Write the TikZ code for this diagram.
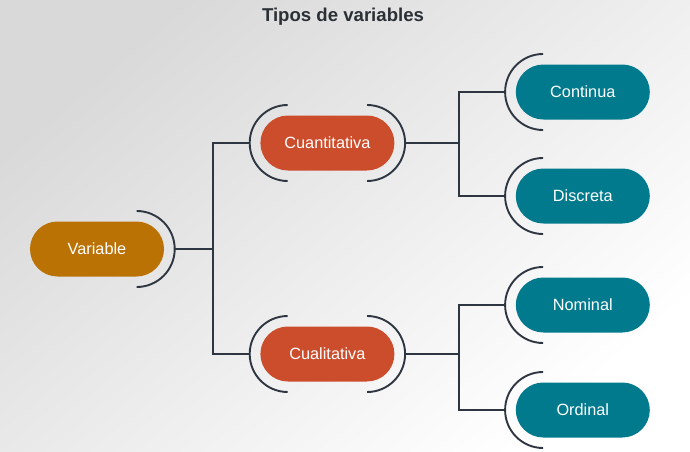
\documentclass[tikz,border=0pt]{standalone}
\usepackage{fontspec}
\setmainfont{Liberation Sans}
\usetikzlibrary{shapes.misc,positioning}

\definecolor{varorange}{HTML}{BB7205}
\definecolor{typered}{HTML}{CB4D2C}
\definecolor{leafteal}{HTML}{007A8C}
\definecolor{linkgray}{HTML}{2E3642}
\definecolor{titlegray}{HTML}{2B2F36}

\begin{document}
\begin{tikzpicture}[
    x=1pt, y=1pt,
    font=\fontsize{16.3}{19}\selectfont,
    pill/.style={rounded rectangle, minimum width=134pt, minimum height=55pt, inner sep=0pt, text=white},
    rootbox/.style={pill, fill=varorange},
    typebox/.style={pill, fill=typered},
    leafbox/.style={pill, fill=leafteal},
    link/.style={draw=linkgray, line width=1.9pt}
]

% background
\useasboundingbox (0,0) rectangle (690,451);
\shade[top color=black!15, bottom color=white, shading angle=40] (0,0) rectangle (690,451);

\node[font=\bfseries\fontsize{18.6}{21}\selectfont, text=titlegray] (title) at (343,434) {Tipos de variables};

\node[rootbox] (var) at (97,202) {Variable};
\node[typebox, right=96pt of var, yshift=106pt] (cuant) {Cuantitativa};
\node[typebox, right=96pt of var, yshift=-105pt] (cual) {Cualitativa};
\node[leafbox, right=121pt of cuant, yshift=51pt] (cont) {Continua};
\node[leafbox, right=121pt of cuant, yshift=-53pt] (disc) {Discreta};
\node[leafbox, right=121pt of cual, yshift=49pt] (nom) {Nominal};
\node[leafbox, right=121pt of cual, yshift=-56pt] (ord) {Ordinal};

% brackets round the pill ends
\foreach \n in {var, cuant, cual}
  \draw[link] ([xshift=-27.5pt]\n.east) ++(90:38pt) arc[start angle=90, end angle=-90, radius=38pt];
\foreach \n in {cuant, cual, cont, disc, nom, ord}
  \draw[link] ([xshift=27.5pt]\n.west) ++(90:38pt) arc[start angle=90, end angle=270, radius=38pt];

% connectors
\draw[link] ([xshift=10.5pt]var.east) -- ++(38pt,0) coordinate (j1) |- ([xshift=-10.5pt]cuant.west);
\draw[link] (j1) |- ([xshift=-10.5pt]cual.west);
\draw[link] ([xshift=10.5pt]cuant.east) -- ++(54pt,0) coordinate (j2) |- ([xshift=-10.5pt]cont.west);
\draw[link] (j2) |- ([xshift=-10.5pt]disc.west);
\draw[link] ([xshift=10.5pt]cual.east) -- ++(54pt,0) coordinate (j3) |- ([xshift=-10.5pt]nom.west);
\draw[link] (j3) |- ([xshift=-10.5pt]ord.west);

\end{tikzpicture}
\end{document}
